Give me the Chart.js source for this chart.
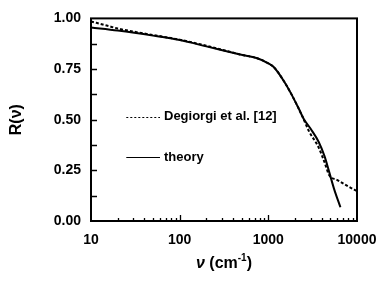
<!DOCTYPE html>
<html>
<head>
<meta charset="utf-8">
<script src="https://cdn.jsdelivr.net/npm/chart.js@4/dist/chart.umd.min.js"></script>
<style>
html,body{margin:0;padding:0;background:#fff;}
#wrap{width:391px;height:284px;position:relative;}
</style>
</head>
<body>
<div id="wrap"><canvas id="c" width="391" height="284"></canvas></div>
<script>
// ---- data ----
const theoryNu = [10, 20, 50, 100, 200, 480, 750, 1000, 1150, 1500, 1800, 2200, 2500, 3000, 3700, 4300, 4800, 5500, 6500];
const theoryR  = [0.955, 0.94, 0.915, 0.893, 0.862, 0.822, 0.803, 0.778, 0.76, 0.69, 0.63, 0.555, 0.505, 0.455, 0.39, 0.32, 0.25, 0.16, 0.068];
const expNu = [10, 15, 20, 30, 50, 100, 200, 480, 750, 1000, 1150, 1500, 1800, 2400, 2860, 3700, 4300, 4850, 6000, 8000, 10000];
const expR  = [0.985, 0.965, 0.95, 0.935, 0.918, 0.895, 0.865, 0.822, 0.803, 0.778, 0.76, 0.69, 0.63, 0.52, 0.445, 0.362, 0.29, 0.227, 0.202, 0.17, 0.148];
const seriesLabels = ["Degiorgi et al. [12]", "theory"];
const xTickValues = [10, 100, 1000, 10000];
const yTickStep = 0.25;
const xTitleParts = ["ν", " (cm", "-1", ")"];

const toXY = (xs, ys) => xs.map((x, i) => ({x: x, y: ys[i]}));
const FONT = "'Liberation Sans', Arial, sans-serif";

const framePlugin = {
  id: 'frame',
  afterDraw(chart) {
    const ctx = chart.ctx;
    const a = chart.chartArea;
    const xs = chart.scales.x, ys = chart.scales.y;
    ctx.save();
    ctx.strokeStyle = '#000';
    ctx.lineWidth = 2;
    ctx.strokeRect(a.left, a.top, a.right - a.left, a.bottom - a.top);
    // inward ticks x
    ctx.lineWidth = 1.3;
    ctx.beginPath();
    for (let d = 1; d <= 4; d++) {
      for (let m = 1; m <= 9; m++) {
        const v = m * Math.pow(10, d);
        if (v < 10 || v > 10000) continue;
        if (m === 1 && (d === 1 || d === 4)) continue;
        const px = Math.round(xs.getPixelForValue(v)) + 0.5;
        const len = m === 1 ? 6 : 3;
        ctx.moveTo(px, a.bottom);
        ctx.lineTo(px, a.bottom - len);
      }
    }
    // inward ticks y
    for (let v = 0.125; v < 1; v += 0.125) {
      const py = Math.round(ys.getPixelForValue(v)) + 0.5;
      ctx.moveTo(a.left, py);
      ctx.lineTo(a.left + 6, py);
    }
    ctx.stroke();
    // legend
    const items = [
      {ds: chart.data.datasets[0], y: ys.getPixelForValue(0.515)},
      {ds: chart.data.datasets[1], y: ys.getPixelForValue(0.315)}
    ];
    ctx.font = "bold 13px " + FONT;
    ctx.textBaseline = 'middle';
    ctx.textAlign = 'left';
    ctx.fillStyle = '#000';
    const x0 = xs.getPixelForValue(25);
    const x1 = xs.getPixelForValue(60);
    items.forEach(it => {
      ctx.beginPath();
      ctx.lineWidth = 1;
      ctx.setLineDash(it.ds.borderDash ? [2, 2] : []);
      ctx.moveTo(x0, Math.round(it.y) + 0.5);
      ctx.lineTo(x1, Math.round(it.y) + 0.5);
      ctx.stroke();
      ctx.setLineDash([]);
      ctx.fillText(it.ds.label, x1 + 4, it.y);
    });
    // x axis title with italic nu and superscript
    const fMain = "bold 16px " + FONT;
    const fIt = "italic bold 16px " + FONT;
    const fSup = "bold 10px " + FONT;
    ctx.textBaseline = 'alphabetic';
    const w = [];
    ctx.font = fIt; w.push(ctx.measureText(xTitleParts[0]).width);
    ctx.font = fMain; w.push(ctx.measureText(xTitleParts[1]).width);
    ctx.font = fSup; w.push(ctx.measureText(xTitleParts[2]).width);
    ctx.font = fMain; w.push(ctx.measureText(xTitleParts[3]).width);
    const total = w.reduce((p, c) => p + c, 0);
    let cx = (a.left + a.right) / 2 - total / 2;
    const base = 268;
    ctx.font = fIt; ctx.fillText(xTitleParts[0], cx, base); cx += w[0];
    ctx.font = fMain; ctx.fillText(xTitleParts[1], cx, base); cx += w[1];
    ctx.font = fSup; ctx.fillText(xTitleParts[2], cx, base - 7); cx += w[2];
    ctx.font = fMain; ctx.fillText(xTitleParts[3], cx, base);
    ctx.restore();
  }
};

new Chart(document.getElementById('c'), {
  type: 'line',
  data: {
    datasets: [
      {
        label: seriesLabels[0],
        data: toXY(expNu, expR),
        borderColor: '#000',
        borderWidth: 2,
        borderDash: [3, 2],
        pointRadius: 0,
        fill: false,
        cubicInterpolationMode: 'monotone'
      },
      {
        label: seriesLabels[1],
        data: toXY(theoryNu, theoryR),
        borderColor: '#000',
        borderWidth: 2,
        pointRadius: 0,
        fill: false,
        cubicInterpolationMode: 'monotone'
      }
    ]
  },
  options: {
    responsive: false,
    animation: false,
    devicePixelRatio: 1,
    layout: {padding: {left: 0, right: 34, top: 11, bottom: 0}},
    plugins: {legend: {display: false}, tooltip: {enabled: false}},
    scales: {
      x: {
        type: 'logarithmic',
        min: 10, max: 10000,
        afterFit(s) { s.height = 63; },
        afterBuildTicks(s) { s.ticks = xTickValues.map(v => ({value: v})); },
        grid: {display: false, drawTicks: false},
        border: {display: false},
        ticks: {
          autoSkip: false, maxRotation: 0, padding: 11, color: '#000',
          font: {family: FONT, size: 14, weight: 'bold'},
          callback: (v) => String(v)
        },
        title: {display: false}
      },
      y: {
        min: 0, max: 1,
        afterFit(s) { s.width = 91; },
        grid: {display: false, drawTicks: false},
        border: {display: false},
        ticks: {
          stepSize: yTickStep, padding: 10, color: '#000',
          font: {family: FONT, size: 14, weight: 'bold'},
          callback: (v) => Number(v).toFixed(2)
        },
        title: {
          display: true, text: 'R(ν)', color: '#000',
          font: {family: FONT, size: 16, weight: 'bold'},
          padding: {top: 7, bottom: 0}
        }
      }
    }
  },
  plugins: [framePlugin]
});
</script>
</body>
</html>
